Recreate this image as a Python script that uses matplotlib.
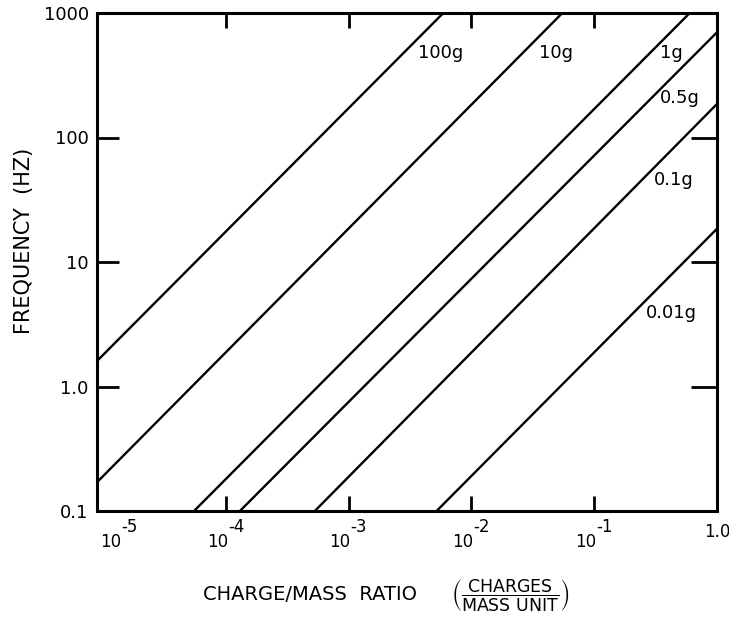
import numpy as np
import matplotlib
matplotlib.use("Agg")
import matplotlib.pyplot as plt
import matplotlib.transforms as mtransforms

plt.rcParams['font.family'] = ['DejaVu Sans']
plt.rcParams['mathtext.default'] = 'regular'

# Data: each line's end points (charge/mass ratio, frequency in Hz)
line_labels = ["100g", "10g", "1g", "0.5g", "0.1g", "0.01g"]
line_x = [[8.9e-6, 5.9e-3],
          [8.9e-6, 5.5e-2],
          [5.5e-5, 0.6],
          [1.3e-4, 1.0],
          [5.3e-4, 1.0],
          [5.2e-3, 1.0]]
line_f = [[1.6, 1000],
          [0.17, 1000],
          [0.1, 1000],
          [0.1, 700],
          [0.1, 186],
          [0.1, 18.5]]

x_ticks = [1e-5, 1e-4, 1e-3, 1e-2, 1e-1, 1.0]
x_tick_exponents = ['-5', '-4', '-3', '-2', '-1']
x_last_label = '1.0'
y_ticks = [0.1, 1.0, 10, 100, 1000]
y_tick_labels = ['0.1', '1.0', '10', '100', '1000']

W, H = 729, 618
fig = plt.figure(figsize=(W / 100, H / 100), dpi=100)
ax = fig.add_axes([97 / W, 1 - 511 / H, 620 / W, 498 / H])

for xs, fs in zip(line_x, line_f):
    ax.plot(xs, fs, color='black', lw=1.7, solid_capstyle='butt')

ax.set_xscale('log')
ax.set_yscale('log')
ax.set_xlim(10 ** -5.05, 1.0)
ax.set_ylim(0.1, 1000)

ax.set_xticks(x_ticks)
ax.set_xticklabels([''] * len(x_ticks))
ax.set_yticks(y_ticks)
ax.set_yticklabels(y_tick_labels, fontsize=13)
ax.xaxis.set_minor_locator(matplotlib.ticker.NullLocator())
ax.yaxis.set_minor_locator(matplotlib.ticker.NullLocator())

ax.tick_params(axis='x', which='major', direction='in', length=11, width=2,
               top=True, bottom=True)
ax.tick_params(axis='y', which='major', direction='in', length=16, width=2,
               left=True, right=True, pad=6)
xt = ax.xaxis.get_major_ticks()
for t in (xt[0], xt[-1]):
    t.tick1line.set_visible(False)
    t.tick2line.set_visible(False)
yt = ax.yaxis.get_major_ticks()
for t in (yt[0], yt[-1]):
    t.tick1line.set_visible(False)
    t.tick2line.set_visible(False)
for t in yt:
    t.tick2line.set_markersize(19)

for s in ax.spines.values():
    s.set_linewidth(2.2)

# x tick labels drawn as "10" with a large raised exponent
blend = mtransforms.blended_transform_factory(ax.transData, fig.transFigure)
for i, (v, e) in enumerate(zip(x_ticks[:-1], x_tick_exponents)):
    extra = 18 if i == 0 else 2
    off = mtransforms.ScaledTranslation(extra / 100, 0, fig.dpi_scale_trans)
    ax.text(v, 1 - 542 / H, '10', transform=blend + off, fontsize=12,
            ha='right', va='center', clip_on=False)
    ax.text(v, 1 - 527 / H, e, transform=blend + off, fontsize=12,
            ha='left', va='center', clip_on=False)
ax.text(x_ticks[-1], 1 - 532 / H, x_last_label, transform=blend, fontsize=12,
        ha='center', va='center', clip_on=False)

# line labels (axes-fraction positions)
label_pos = [(0.555, 0.920), (0.740, 0.920), (0.927, 0.920),
             (0.940, 0.829), (0.931, 0.665), (0.926, 0.398)]
for lab, (px, py) in zip(line_labels, label_pos):
    ax.text(px, py, lab, transform=ax.transAxes, fontsize=13,
            ha='center', va='center')

fig.text(24 / W, 1 - 241 / H, 'FREQUENCY  (HZ)', fontsize=15,
         rotation=90, ha='center', va='center')

fig.text(310 / W, 1 - 595 / H, 'CHARGE/MASS  RATIO', fontsize=14,
         ha='center', va='center')
fig.text(510 / W, 1 - 595 / H, r'$\left(\dfrac{CHARGES}{MASS\ UNIT}\right)$',
         fontsize=12.5, ha='center', va='center')

fig.savefig('out.png', dpi=100)
